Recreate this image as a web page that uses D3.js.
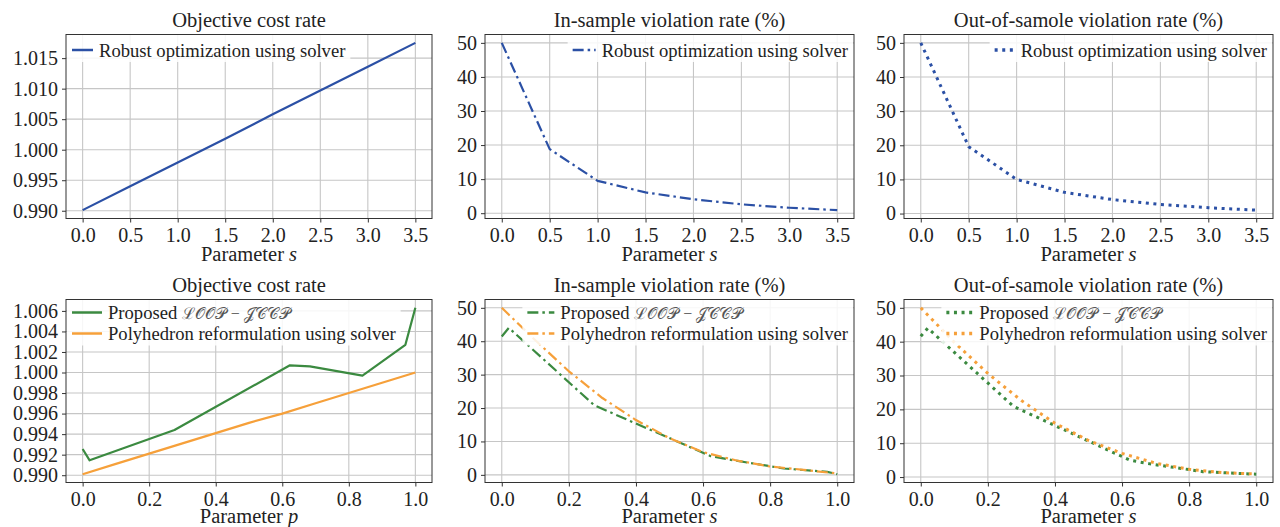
<!DOCTYPE html>
<html>
<head>
<meta charset="utf-8">
<script src="https://cdn.jsdelivr.net/npm/d3@7"></script>
<style>
  body { margin: 0; background: #fff; }
  svg text { font-family: "Liberation Serif", "Times New Roman", serif; fill: #222; }
</style>
</head>
<body>
<div id="chart"></div>
<script>
// Datos
const sTop = [0, 0.5, 1.0, 1.5, 2.0, 2.5, 3.0, 3.5];
const robustCost = [0.9901, 0.9940, 0.9979, 1.0018, 1.0058, 1.0097, 1.0136, 1.0175];
const robustInSample = [50, 18.8, 9.5, 6.1, 4.1, 2.6, 1.6, 0.9];
const robustOutSample = [50, 19.6, 10.0, 6.2, 4.1, 2.65, 1.7, 1.0];

const pLoop = [0, 0.021, 0.276, 0.623, 0.683, 0.841, 0.970, 1.0];
const loopCost = [0.99255, 0.99145, 0.9944, 1.0007, 1.0006, 0.9997, 1.0027, 1.0063];
const loopInSample = [41.4, 44.0, 20.8, 5.6, 4.5, 1.9, 0.9, 0.2];
const loopOutSample = [41.6, 44.0, 20.9, 5.0, 3.9, 1.6, 0.95, 0.85];

const pPoly = [0, 0.1, 0.2, 0.3, 0.4, 0.5, 0.6, 0.7, 0.8, 0.9, 1.0];
const polyCost = [0.9901, 0.9911, 0.9921, 0.9931, 0.9941, 0.9951, 0.9960, 0.9970, 0.9980, 0.9990, 1.0000];
const polyInSample = [50, 40.3, 31.0, 23.0, 16.4, 11.0, 6.8, 4.3, 2.5, 1.5, 0.4];
const polyOutSample = [50, 39.8, 30.6, 22.6, 15.9, 10.8, 7.0, 4.1, 2.3, 1.3, 0.9];

const xTicksTop = [0, 0.5, 1.0, 1.5, 2.0, 2.5, 3.0, 3.5];
const xTicksBottom = [0, 0.2, 0.4, 0.6, 0.8, 1.0];
const yTicksCostTop = [0.990, 0.995, 1.000, 1.005, 1.010, 1.015];
const yTicksCostBottom = [0.990, 0.992, 0.994, 0.996, 0.998, 1.000, 1.002, 1.004, 1.006];
const yTicksRate = [0, 10, 20, 30, 40, 50];

const labelRobust = "Robust optimization using solver";
const labelLoop = "Proposed ";
const labelLoopMath = "ℒ𝒪𝒪𝒫 − 𝒥𝒞𝒞𝒫";
const labelPoly = "Polyhedron reformulation using solver";

// Colores y estilos de linea
const blue = "#2b50a5", green = "#3b8a40", orange = "#f6a03a";
const styles = {
  solid:   { width: 2.2, dash: null },
  dashdot: { width: 2.2, dash: "11,4,2.5,4" },
  dotted:  { width: 3, dash: "3,4.6" }
};

const W = 1280, H = 527;
const cols = [[66, 432], [485, 854], [904, 1273]];
const rows = [[34.5, 218.5], [299.5, 482.5]];
const xLabelOffset = [42, 40];

const svg = d3.select("#chart")
  .append("svg")
  .attr("width", W)
  .attr("height", H);

const panels = [
  { col: 0, row: 0, title: "Objective cost rate", xvar: "s", xTicks: xTicksTop, xfmt: ".1f",
    yTicks: yTicksCostTop, yfmt: ".3f", legendSide: "left", rowOff: 15, handleLen: 21,
    series: [{ x: sTop, y: robustCost, color: blue, style: "solid", label: labelRobust }] },
  { col: 1, row: 0, title: "In-sample violation rate (%)", xvar: "s", xTicks: xTicksTop, xfmt: ".1f",
    yTicks: yTicksRate, yfmt: "d", legendSide: "right", rowOff: 15, handleLen: 23,
    series: [{ x: sTop, y: robustInSample, color: blue, style: "dashdot", label: labelRobust }] },
  { col: 2, row: 0, title: "Out-of-samole violation rate (%)", xvar: "s", xTicks: xTicksTop, xfmt: ".1f",
    yTicks: yTicksRate, yfmt: "d", legendSide: "right", rowOff: 15, handleLen: 20,
    series: [{ x: sTop, y: robustOutSample, color: blue, style: "dotted", label: labelRobust }] },
  { col: 0, row: 1, title: "Objective cost rate", xvar: "p", xTicks: xTicksBottom, xfmt: ".1f",
    yTicks: yTicksCostBottom, yfmt: ".3f", legendSide: "left", rowOff: 12.5, handleLen: 30,
    series: [{ x: pLoop, y: loopCost, color: green, style: "solid", label: labelLoop, math: labelLoopMath },
             { x: pPoly, y: polyCost, color: orange, style: "solid", label: labelPoly }] },
  { col: 1, row: 1, title: "In-sample violation rate (%)", xvar: "s", xTicks: xTicksBottom, xfmt: ".1f",
    yTicks: yTicksRate, yfmt: "d", legendSide: "right", rowOff: 12.5, handleLen: 27,
    series: [{ x: pLoop, y: loopInSample, color: green, style: "dashdot", label: labelLoop, math: labelLoopMath },
             { x: pPoly, y: polyInSample, color: orange, style: "dashdot", label: labelPoly }] },
  { col: 2, row: 1, title: "Out-of-samole violation rate (%)", xvar: "s", xTicks: xTicksBottom, xfmt: ".1f",
    yTicks: yTicksRate, yfmt: "d", legendSide: "right", rowOff: 12.5, handleLen: 27,
    series: [{ x: pLoop, y: loopOutSample, color: green, style: "dotted", label: labelLoop, math: labelLoopMath },
             { x: pPoly, y: polyOutSample, color: orange, style: "dotted", label: labelPoly }] }
];

function drawPanel(p) {
  const [x0, x1] = cols[p.col];
  const [y0, y1] = rows[p.row];

  // Escalas con 5% de margen como matplotlib
  const xs = d3.extent(d3.merge(p.series.map(s => s.x)));
  const ys = d3.extent(d3.merge(p.series.map(s => s.y)));
  const xpad = (xs[1] - xs[0]) * 0.05, ypad = (ys[1] - ys[0]) * 0.05;
  const x = d3.scaleLinear().domain([xs[0] - xpad, xs[1] + xpad]).range([x0, x1]);
  const y = d3.scaleLinear().domain([ys[0] - ypad, ys[1] + ypad]).range([y1, y0]);

  const g = svg.append("g");

  // Rejilla
  g.append("g").selectAll("line").data(p.xTicks).join("line")
    .attr("x1", d => x(d)).attr("x2", d => x(d))
    .attr("y1", y0).attr("y2", y1)
    .attr("stroke", "#c6c6c6").attr("stroke-width", 1.1);
  g.append("g").selectAll("line").data(p.yTicks).join("line")
    .attr("x1", x0).attr("x2", x1)
    .attr("y1", d => y(d)).attr("y2", d => y(d))
    .attr("stroke", "#c6c6c6").attr("stroke-width", 1.1);

  // Series
  p.series.forEach(s => {
    const st = styles[s.style];
    const line = d3.line().x(d => x(d[0])).y(d => y(d[1]));
    g.append("path")
      .datum(d3.zip(s.x, s.y))
      .attr("d", line)
      .attr("fill", "none")
      .attr("stroke", s.color)
      .attr("stroke-width", st.width)
      .attr("stroke-dasharray", st.dash)
      .attr("stroke-linejoin", "round");
  });

  // Ejes
  const xa = g.append("g")
    .attr("transform", `translate(0,${y1})`)
    .call(d3.axisBottom(x).tickValues(p.xTicks).tickFormat(d3.format(p.xfmt)).tickSize(4).tickPadding(5));
  const ya = g.append("g")
    .attr("transform", `translate(${x0},0)`)
    .call(d3.axisLeft(y).tickValues(p.yTicks).tickFormat(d3.format(p.yfmt)).tickSize(4).tickPadding(4));
  [xa, ya].forEach(a => {
    a.select(".domain").remove();
    a.selectAll("line").attr("stroke", "#333");
    a.selectAll("text").style("font-size", "20px").attr("fill", "#222");
  });

  // Marco
  g.append("rect")
    .attr("x", x0).attr("y", y0)
    .attr("width", x1 - x0).attr("height", y1 - y0)
    .attr("fill", "none").attr("stroke", "#333").attr("stroke-width", 1);

  // Titulo
  g.append("text")
    .attr("x", (x0 + x1) / 2)
    .attr("y", y0 - 7.5)
    .attr("text-anchor", "middle")
    .style("font-size", "20.5px")
    .text(p.title);

  // Etiqueta eje X
  const xl = g.append("text")
    .attr("x", (x0 + x1) / 2)
    .attr("y", y1 + xLabelOffset[p.row])
    .attr("text-anchor", "middle")
    .style("font-size", "20.5px");
  xl.append("tspan").text("Parameter ");
  xl.append("tspan").style("font-style", "italic").text(p.xvar);

  drawLegend(g, p, x0, x1, y0);
}

function drawLegend(g, p, x0, x1, y0) {
  const pad = 5, gap = 6, rowH = 21;
  const lg = g.append("g");
  const box = lg.append("rect").attr("fill", "#fff").attr("fill-opacity", 0.85);

  const items = lg.selectAll("g.item").data(p.series).join("g")
    .attr("class", "item")
    .attr("transform", (d, i) => `translate(0,${p.rowOff + i * rowH})`);

  items.append("line")
    .attr("x1", pad).attr("x2", pad + p.handleLen)
    .attr("stroke", d => d.color)
    .attr("stroke-width", d => styles[d.style].width + 0.3)
    .attr("stroke-dasharray", d => styles[d.style].dash);

  const texts = items.append("text")
    .attr("x", pad + p.handleLen + gap)
    .attr("dy", "0.35em")
    .style("font-size", "18.6px");
  texts.append("tspan").text(d => d.label);
  texts.filter(d => d.math).append("tspan")
    .style("fill", "#555")
    .style("font-size", "16px")
    .text(d => d.math);

  const textW = d3.max(texts.nodes(), n => n.getComputedTextLength());
  const boxW = pad + p.handleLen + gap + textW + pad;
  const boxH = p.rowOff + (p.series.length - 1) * rowH + 12;
  box.attr("width", boxW).attr("height", boxH);

  const left = p.legendSide === "left" ? x0 + 1 : x1 - 1 - boxW;
  lg.attr("transform", `translate(${left},${y0 + 0.5})`);
}

panels.forEach(drawPanel);
</script>
</body>
</html>
